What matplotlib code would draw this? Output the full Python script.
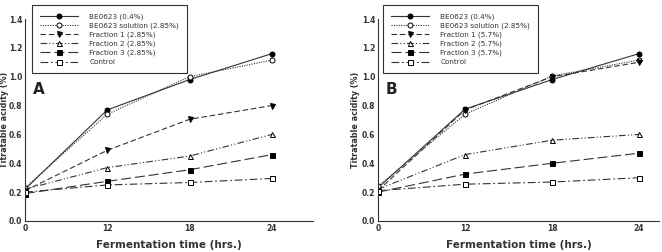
import matplotlib
matplotlib.use("Agg")
import matplotlib.pyplot as plt

times = ["0", "12", "18", "24"]

# Panel A
a_be = [0.22, 0.77, 0.98, 1.16]
a_sol = [0.23, 0.74, 1.00, 1.115]
a_f1 = [0.21, 0.49, 0.705, 0.80]
a_f2 = [0.22, 0.37, 0.45, 0.60]
a_f3 = [0.19, 0.275, 0.355, 0.46]
a_ctrl = [0.20, 0.25, 0.267, 0.295]
a_labels = ["BE0623 (0.4%)", "BE0623 solution (2.85%)", "Fraction 1 (2.85%)",
            "Fraction 2 (2.85%)", "Fraction 3 (2.85%)", "Control"]

# Panel B
b_be = [0.23, 0.775, 0.98, 1.16]
b_sol = [0.24, 0.74, 1.005, 1.115]
b_f1 = [0.21, 0.77, 1.00, 1.10]
b_f2 = [0.22, 0.46, 0.56, 0.60]
b_f3 = [0.20, 0.325, 0.40, 0.47]
b_ctrl = [0.21, 0.255, 0.27, 0.30]
b_labels = ["BE0623 (0.4%)", "BE0623 solution (2.85%)", "Fraction 1 (5.7%)",
            "Fraction 2 (5.7%)", "Fraction 3 (5.7%)", "Control"]

yticks = [0.0, 0.2, 0.4, 0.6, 0.8, 1.0, 1.2, 1.4]

styles = [
    dict(ls="-", marker="o", mfc="black"),
    dict(ls=(0, (1, 1.2)), marker="o", mfc="white"),
    dict(ls=(0, (5, 2.5)), marker="v", mfc="black"),
    dict(ls=(0, (6, 2, 1, 2, 1, 2)), marker="^", mfc="white"),
    dict(ls=(0, (9, 3.5)), marker="s", mfc="black"),
    dict(ls=(0, (7, 2.5, 1.5, 2.5)), marker="s", mfc="white"),
]

W, H = 662, 252
fig = plt.figure(figsize=(W / 100, H / 100), dpi=100)
fig.patch.set_facecolor("white")

def panel(rect, data, labels, letter, xmax, legpos, ylab_x):
    ax = fig.add_axes(rect)
    x = list(range(len(times)))
    handles = []
    for vals, lab, st in zip(data, labels, styles):
        h, = ax.plot(x, vals, color="#333333", lw=0.8, linestyle=st["ls"],
                     marker=st["marker"], ms=3.6, mfc=st["mfc"], mec="black", mew=0.7,
                     label=lab)
        handles.append(h)
    ax.set_xlim(0, xmax)
    ax.set_ylim(0, 1.4)
    ax.set_xticks(x)
    ax.set_xticklabels(times)
    ax.set_yticks(yticks)
    ax.set_yticklabels([f"{v:.1f}" for v in yticks])
    for s in ["top", "right"]:
        ax.spines[s].set_visible(False)
    for s in ["left", "bottom"]:
        ax.spines[s].set_linewidth(0.8)
        ax.spines[s].set_color("#333333")
    ax.tick_params(labelsize=5.5, length=0, width=0.7, pad=2, colors="#333333")
    for t in ax.get_xticklabels() + ax.get_yticklabels():
        t.set_fontweight("bold")
    ax.set_xlabel("Fermentation time (hrs.)", fontsize=7.5, fontweight="bold",
                  color="#333333", labelpad=5)
    ax.set_ylabel("Titratable acidity (%)", fontsize=5.8, fontweight="bold",
                  color="#333333")
    ax.yaxis.set_label_coords(ylab_x, 0.5)
    ax.text(0.028, 0.65, letter, transform=ax.transAxes, fontsize=11,
            fontweight="bold", color="#222222", va="center", ha="left")
    leg = ax.legend(handles=handles, loc="upper left",
                    bbox_to_anchor=legpos, bbox_transform=fig.transFigure,
                    frameon=True, fancybox=False, framealpha=1,
                    edgecolor="#333333", borderaxespad=0, handlelength=5.2,
                    handletextpad=1.6, labelspacing=0.36, borderpad=1.15,
                    prop=dict(size=5.2))
    leg.get_frame().set_linewidth(0.8)
    for t in leg.get_texts():
        t.set_color("#333333")
    return ax

data_a = [a_be, a_sol, a_f1, a_f2, a_f3, a_ctrl]
data_b = [b_be, b_sol, b_f1, b_f2, b_f3, b_ctrl]

panel([25 / W, 31 / H, 288 / W, 202 / H], data_a, a_labels, "A", 3.5,
      (32 / W, 1 - 5 / H), (9 - 25) / 288)
panel([378 / W, 31 / H, 281 / W, 202 / H], data_b, b_labels, "B", 3.23,
      (383 / W, 1 - 5 / H), (360 - 378) / 281)

fig.savefig("out.png", dpi=100, facecolor="white")
